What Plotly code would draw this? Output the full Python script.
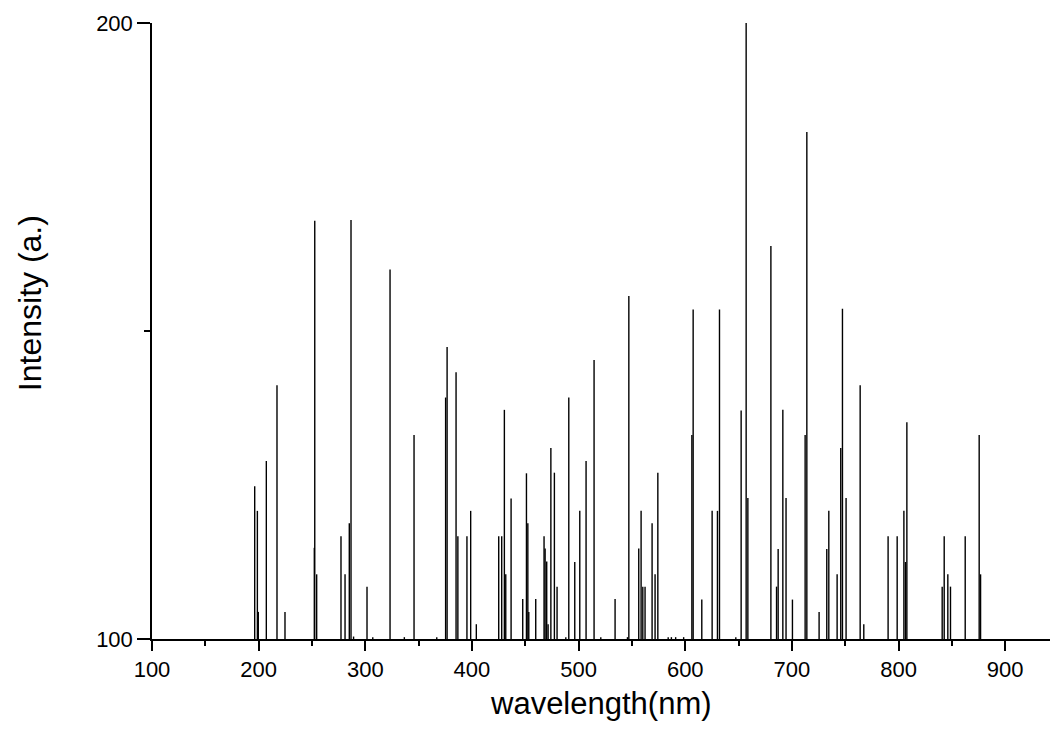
import plotly.graph_objects as go

# Emission line positions (nm) and their peak intensities
wavelengths = [
    196.3, 198.8, 199.7, 207.2, 217.2, 224.7, 252.2, 252.6, 254.4,
    277.2, 281.0, 285.0, 286.6, 289.0, 301.6, 307.0, 323.2, 336.6,
    345.7, 367.0, 375.3, 376.7, 385.1, 386.8, 395.3, 398.8, 404.1,
    425.1, 427.9, 430.4, 431.7, 436.7, 447.6, 451.1, 452.4, 453.3,
    459.8, 467.6, 468.6, 470.1, 471.4, 474.0, 477.3, 479.8, 488.0,
    490.8, 496.4, 501.1, 507.0, 514.5, 520.8, 534.2, 545.8, 547.1,
    556.4, 558.6, 560.2, 562.3, 568.9, 571.7, 574.3, 584.0, 587.0,
    591.0, 598.5, 606.2, 607.4, 615.5, 625.2, 630.2, 632.1, 647.4,
    652.4, 657.1, 658.7, 680.3, 685.6, 687.1, 691.5, 694.5, 700.5,
    712.4, 714.0, 725.5, 732.7, 734.6, 742.4, 745.8, 747.4, 750.8,
    764.0, 767.4, 790.2, 798.7, 805.0, 806.5, 807.8, 840.9, 842.8,
    846.2, 848.7, 862.5, 875.6, 876.9,
]
intensities = [
    124.8, 120.8, 104.4, 128.9, 141.2, 104.4, 114.8, 167.9, 110.5,
    116.7, 110.5, 118.8, 168.0, 100.4, 108.5, 100.3, 160.0, 100.3,
    133.1, 100.3, 139.2, 147.4, 143.3, 116.7, 116.7, 120.8, 102.4,
    116.7, 116.7, 137.2, 110.5, 122.8, 106.5, 126.9, 118.8, 104.4,
    106.5, 116.7, 114.7, 112.6, 102.4, 131.0, 127.0, 108.5, 100.3,
    139.2, 112.5, 120.8, 128.9, 145.3, 100.3, 106.5, 100.3, 155.7,
    114.7, 120.8, 108.5, 108.5, 118.8, 110.5, 127.0, 100.3, 100.3,
    100.3, 100.3, 133.1, 153.5, 106.4, 120.8, 120.8, 153.5, 100.3,
    137.1, 200.0, 122.9, 163.8, 108.5, 114.6, 137.2, 122.9, 106.4,
    133.1, 182.3, 104.4, 114.6, 120.8, 110.5, 131.0, 153.6, 122.9,
    141.2, 102.4, 116.7, 116.7, 120.8, 112.5, 135.2, 108.5, 116.7,
    110.5, 108.5, 116.7, 133.1, 110.5,
]

baseline = 100
x_ticks = [100, 200, 300, 400, 500, 600, 700, 800, 900]
y_ticks = [100, 200]

# Build vertical sticks from the baseline up to each intensity
xs, ys = [], []
for w, h in zip(wavelengths, intensities):
    xs += [w, w, None]
    ys += [baseline, h, None]

fig = go.Figure()
fig.add_trace(go.Scatter(
    x=xs, y=ys, mode="lines",
    line=dict(color="black", width=1.4),
    hoverinfo="skip", showlegend=False,
))

font_family = "Liberation Sans, Arial, sans-serif"

fig.update_layout(
    width=1050, height=729,
    margin=dict(l=152, r=0, t=23, b=90),
    paper_bgcolor="white", plot_bgcolor="white",
    font=dict(family=font_family, color="black", size=22),
    xaxis=dict(
        range=[100, 942],
        tickvals=x_ticks,
        ticktext=[str(v) for v in x_ticks],
        ticks="outside", ticklen=10, tickwidth=1.5, tickcolor="black",
        minor=dict(dtick=50, tick0=100, ticks="outside", ticklen=5,
                   tickwidth=1.5, tickcolor="black"),
        showline=True, linecolor="black", linewidth=1.5,
        showgrid=False, zeroline=False,
        tickfont=dict(size=22),
    ),
    yaxis=dict(
        range=[100, 200],
        tickvals=y_ticks,
        ticktext=[str(v) for v in y_ticks],
        ticks="outside", ticklen=13, tickwidth=1.5, tickcolor="black",
        minor=dict(dtick=50, tick0=100, ticks="outside", ticklen=6,
                   tickwidth=1.5, tickcolor="black"),
        showline=True, linecolor="black", linewidth=1.5,
        showgrid=False, zeroline=False,
        tickfont=dict(size=22),
    ),
    annotations=[
        dict(
            text="Intensity (a.)", textangle=-90,
            xref="paper", yref="paper", x=-0.136, y=0.545,
            xanchor="center", yanchor="middle", showarrow=False,
            font=dict(size=32),
        ),
        dict(
            text="wavelength(nm)",
            xref="paper", yref="paper", x=0.5, y=-0.105,
            xanchor="center", yanchor="middle", showarrow=False,
            font=dict(size=31),
        ),
    ],
)

fig.write_html("out.html")
